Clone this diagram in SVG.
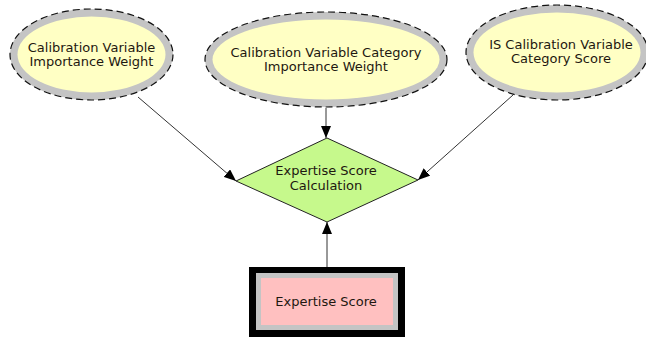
<svg xmlns="http://www.w3.org/2000/svg" width="646" height="341" viewBox="0 0 646 341">
  <style>
    .band { fill: #c4c4c4; }
    .core { fill: #ffffc4; }
    .dash { fill: none; stroke: #111; stroke-width: 1.2; stroke-dasharray: 7 4; }
    .label { font-family: "DejaVu Sans", "Liberation Sans", sans-serif; font-size: 13px; fill: #1e1810; text-anchor: middle; }
    .edge { fill: none; stroke: #333; stroke-width: 1; marker-end: url(#arrow); }
  </style>
  <defs>
    <marker id="arrow" viewBox="0 0 12 10" refX="12" refY="5" markerWidth="12" markerHeight="10" markerUnits="userSpaceOnUse" orient="auto">
      <path d="M0,0 L12,5 L0,10 Z" fill="#000"/>
    </marker>
  </defs>
  <rect width="646" height="341" fill="#fff"/>

  <g id="connectors">
    <line class="edge" x1="138" y1="97" x2="236" y2="181"/>
    <line class="edge" x1="326" y1="108" x2="326" y2="138"/>
    <line class="edge" x1="513" y1="95" x2="418" y2="180"/>
    <line class="edge" x1="327" y1="267" x2="327" y2="222"/>
  </g>

  <g id="calibration-variable-importance-weight">
    <ellipse class="band" cx="91.5" cy="54.5" rx="81.5" ry="45.5"/>
    <ellipse class="core" cx="91.5" cy="54.5" rx="74" ry="38"/>
    <ellipse class="dash" cx="91.5" cy="54.5" rx="81.5" ry="45.5"/>
    <text class="label" x="91.5" y="52">Calibration Variable</text>
    <text class="label" x="91.5" y="66">Importance Weight</text>
  </g>

  <g id="calibration-variable-category-importance-weight">
    <ellipse class="band" cx="326" cy="59.5" rx="121" ry="47.5"/>
    <ellipse class="core" cx="326" cy="59.5" rx="113.5" ry="40"/>
    <ellipse class="dash" cx="326" cy="59.5" rx="121" ry="47.5"/>
    <text class="label" x="326" y="57">Calibration Variable Category</text>
    <text class="label" x="326" y="71">Importance Weight</text>
  </g>

  <g id="is-calibration-variable-category-score">
    <ellipse class="band" cx="557" cy="52.5" rx="91" ry="47.5"/>
    <ellipse class="core" cx="557" cy="52.5" rx="83.5" ry="40"/>
    <ellipse class="dash" cx="557" cy="52.5" rx="91" ry="47.5"/>
    <text class="label" x="561" y="49">IS Calibration Variable</text>
    <text class="label" x="561" y="63">Category Score</text>
  </g>

  <g id="expertise-score-calculation">
    <polygon points="327,138 418,180 327,222 236,181" fill="#c6f98c" stroke="#222" stroke-width="1"/>
    <text class="label" x="326" y="175">Expertise Score</text>
    <text class="label" x="326" y="190">Calculation</text>
  </g>

  <g id="expertise-score">
    <rect x="249" y="267" width="156" height="70" fill="#000"/>
    <rect x="256" y="273" width="142" height="57" fill="#c4c4c4"/>
    <rect x="261" y="278" width="132" height="47" fill="#ffc0c0"/>
    <text class="label" x="326" y="306">Expertise Score</text>
  </g>
</svg>
